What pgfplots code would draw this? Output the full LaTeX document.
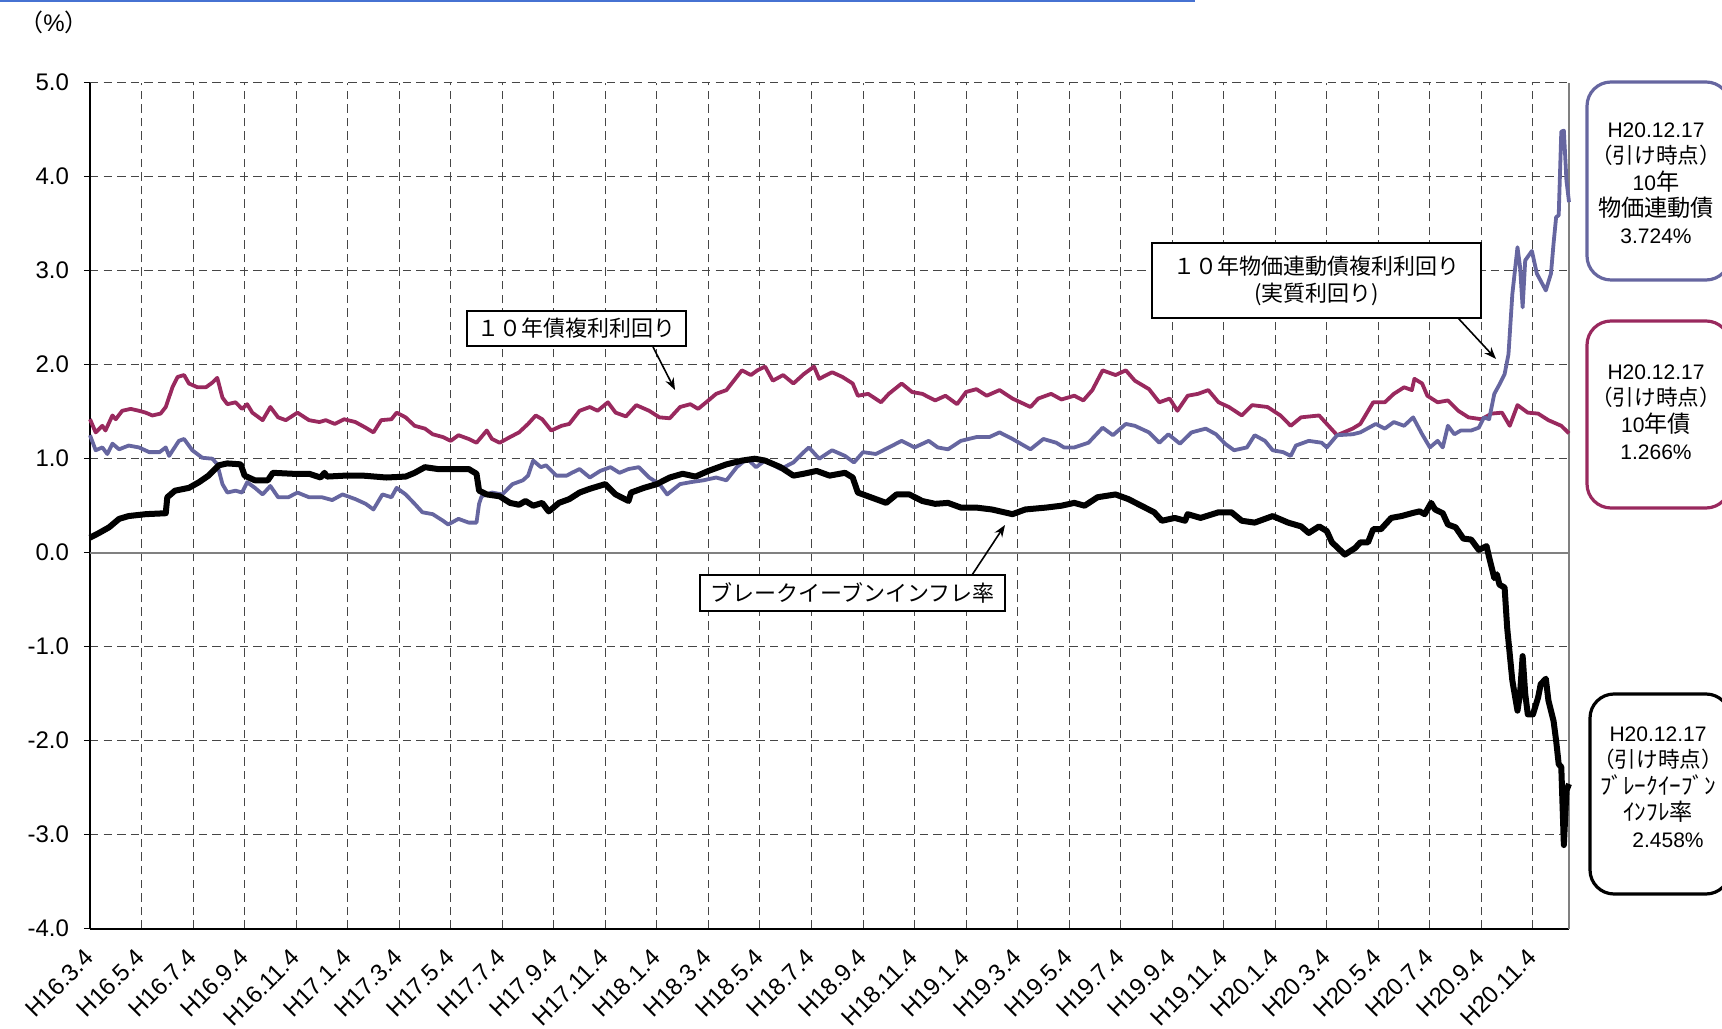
\documentclass[border=0pt]{standalone}
\usepackage{pgfplots}
\pgfplotsset{compat=1.18}
\usepackage{fontspec}
\setmainfont{Liberation Sans}
\newfontfamily\jp{Noto Sans CJK JP}
\usetikzlibrary{arrows.meta}
\definecolor{ilbblue}{RGB}{102,102,160}
\definecolor{jgbred}{RGB}{153,41,94}
\definecolor{gridc}{RGB}{70,70,70}
\definecolor{topblue}{RGB}{70,114,210}
\newcommand{\jb}[1]{{\jp\fontsize{11.6}{13.3}\selectfont #1}}
\newcommand{\jn}[1]{{\jp\fontsize{10.8}{13.3}\selectfont #1}}

\begin{document}
\begin{tikzpicture}
\begin{axis}[
  name=ax, at={(0,0)}, anchor=south west,
  scale only axis, width=739.5pt, height=423pt,
  xmin=0, xmax=57.4, ymin=-4, ymax=5,
  axis x line=bottom, axis y line=left,
  axis line style={-, black, line width=0.8pt},
  xtick={0,2,...,56},
  xticklabels={H16.3.4,H16.5.4,H16.7.4,H16.9.4,H16.11.4,H17.1.4,H17.3.4,H17.5.4,H17.7.4,H17.9.4,H17.11.4,H18.1.4,H18.3.4,H18.5.4,H18.7.4,H18.9.4,H18.11.4,H19.1.4,H19.3.4,H19.5.4,H19.7.4,H19.9.4,H19.11.4,H20.1.4,H20.3.4,H20.5.4,H20.7.4,H20.9.4,H20.11.4},
  ytick={-4,-3,...,5},
  yticklabels={-4.0,-3.0,-2.0,-1.0,0.0,1.0,2.0,3.0,4.0,5.0},
  xmajorgrids, ymajorgrids,
  major grid style={gridc, line width=0.5pt, dash pattern=on 4.2pt off 2.6pt},
  x tick style={draw=none},
  y tick style={black, line width=0.6pt},
  tick align=outside, major tick length=3pt,
  tick label style={font=\fontsize{12}{14}\selectfont},
  xticklabel style={yshift=-7pt, xshift=2pt, rotate=45, anchor=east},
  yticklabel style={xshift=-4pt},
  clip=false,
]
\draw[gray, line width=0.8pt] (axis cs:0,0) -- (axis cs:57.4,0);
\draw[gray, line width=0.8pt] (rel axis cs:1,0) -- (rel axis cs:1,1);

% 10-year JGB
\addplot[jgbred, line width=1.9pt, line join=round] coordinates {
(0,1.42)(0.22,1.28)(0.48,1.35)(0.6,1.30)(0.87,1.46)(1.0,1.42)(1.25,1.51)(1.58,1.53)(1.9,1.51)(2.16,1.49)
(2.42,1.46)(2.74,1.48)(2.94,1.55)(3.2,1.76)(3.4,1.87)(3.65,1.89)(3.84,1.80)(4.17,1.76)(4.5,1.76)(4.75,1.81)
(4.94,1.86)(5.14,1.65)(5.33,1.58)(5.65,1.60)(5.9,1.53)(6.1,1.58)(6.3,1.49)(6.7,1.41)(7.0,1.55)(7.3,1.44)
(7.6,1.41)(8.05,1.49)(8.5,1.41)(8.9,1.39)(9.15,1.41)(9.5,1.37)(9.86,1.42)(10.3,1.39)(10.7,1.33)(11.0,1.28)
(11.3,1.41)(11.7,1.42)(11.9,1.49)(12.25,1.44)(12.6,1.35)(13.0,1.32)(13.3,1.26)(13.7,1.23)(14.0,1.19)(14.3,1.25)
(14.7,1.21)(15.0,1.17)(15.4,1.30)(15.6,1.21)(15.9,1.17)(16.3,1.23)(16.65,1.28)(17.0,1.37)(17.3,1.46)(17.55,1.42)
(17.9,1.30)(18.3,1.35)(18.6,1.37)(19.0,1.51)(19.4,1.55)(19.7,1.51)(20.1,1.60)(20.4,1.49)(20.8,1.45)(21.2,1.57)
(21.7,1.51)(22.1,1.44)(22.5,1.43)(22.9,1.55)(23.3,1.58)(23.6,1.53)(24.0,1.62)(24.3,1.69)(24.7,1.73)(25.1,1.87)
(25.3,1.94)(25.65,1.89)(25.9,1.94)(26.2,1.98)(26.5,1.83)(26.9,1.89)(27.3,1.80)(27.7,1.90)(28.1,1.98)(28.3,1.85)
(28.8,1.92)(29.2,1.87)(29.6,1.80)(29.8,1.67)(30.2,1.69)(30.7,1.60)(31.0,1.69)(31.5,1.80)(31.9,1.71)(32.3,1.69)
(32.8,1.62)(33.2,1.67)(33.65,1.58)(34.0,1.71)(34.4,1.74)(34.8,1.67)(35.3,1.73)(35.8,1.64)(36.5,1.55)(36.8,1.64)
(37.3,1.69)(37.7,1.63)(38.2,1.67)(38.55,1.62)(38.9,1.73)(39.3,1.94)(39.8,1.89)(40.2,1.94)(40.55,1.83)(41.1,1.74)
(41.5,1.60)(41.9,1.64)(42.2,1.51)(42.6,1.67)(43.0,1.69)(43.4,1.73)(43.8,1.60)(44.2,1.55)(44.7,1.46)(45.1,1.57)
(45.7,1.55)(46.2,1.46)(46.6,1.35)(47.0,1.44)(47.7,1.46)(48.0,1.37)(48.4,1.25)(49.0,1.32)(49.3,1.37)(49.8,1.60)
(50.25,1.60)(50.6,1.69)(51.0,1.76)(51.3,1.73)(51.4,1.85)(51.7,1.80)(51.9,1.67)(52.3,1.60)(52.7,1.62)(53.1,1.51)
(53.5,1.44)(54.0,1.42)(54.4,1.48)(54.8,1.49)(55.1,1.35)(55.4,1.57)(55.8,1.49)(56.2,1.48)(56.6,1.41)(57.1,1.35)
(57.4,1.27)
};

% 10-year inflation-indexed bond
\addplot[ilbblue, line width=1.9pt, line join=round] coordinates {
(0,1.25)(0.22,1.09)(0.48,1.12)(0.67,1.05)(0.87,1.16)(1.13,1.10)(1.5,1.14)(1.9,1.12)(2.3,1.07)(2.7,1.07)
(2.94,1.12)(3.07,1.03)(3.45,1.19)(3.65,1.21)(3.97,1.09)(4.36,1.01)(4.75,1.00)(4.94,0.94)(5.14,0.73)(5.33,0.64)
(5.65,0.66)(5.9,0.64)(6.1,0.75)(6.4,0.69)(6.7,0.62)(7.0,0.71)(7.3,0.59)(7.7,0.59)(8.05,0.64)(8.5,0.59)
(9.0,0.59)(9.4,0.56)(9.8,0.62)(10.3,0.57)(10.7,0.52)(11.0,0.46)(11.35,0.62)(11.7,0.59)(11.9,0.69)(12.25,0.62)
(12.6,0.52)(12.9,0.43)(13.3,0.41)(13.7,0.34)(13.9,0.30)(14.3,0.36)(14.7,0.32)(15.0,0.32)(15.1,0.52)(15.2,0.60)
(15.6,0.64)(16.0,0.62)(16.4,0.73)(16.8,0.77)(17.0,0.82)(17.2,0.98)(17.5,0.91)(17.7,0.93)(18.1,0.82)(18.5,0.82)
(18.7,0.85)(19.0,0.89)(19.4,0.80)(19.8,0.87)(20.2,0.91)(20.55,0.85)(20.9,0.89)(21.3,0.91)(21.7,0.80)(22.1,0.73)
(22.4,0.62)(22.9,0.73)(23.3,0.75)(23.8,0.77)(24.3,0.80)(24.7,0.77)(25.1,0.91)(25.5,1.00)(25.85,0.91)(26.2,0.98)
(26.8,0.89)(27.3,0.96)(27.7,1.07)(27.9,1.12)(28.3,1.00)(28.8,1.09)(29.3,1.03)(29.65,0.96)(30.0,1.07)(30.5,1.05)
(31.0,1.12)(31.5,1.19)(32.0,1.12)(32.55,1.19)(32.9,1.12)(33.3,1.10)(33.8,1.19)(34.4,1.23)(34.9,1.23)(35.3,1.28)
(35.8,1.21)(36.5,1.10)(37.0,1.21)(37.5,1.17)(37.8,1.12)(38.2,1.12)(38.75,1.17)(39.3,1.33)(39.7,1.25)(40.2,1.37)
(40.55,1.35)(41.1,1.28)(41.5,1.17)(41.85,1.26)(42.3,1.16)(42.75,1.28)(43.3,1.32)(43.7,1.26)(44.05,1.16)(44.4,1.09)
(44.9,1.12)(45.2,1.25)(45.6,1.19)(45.9,1.09)(46.3,1.07)(46.6,1.03)(46.8,1.14)(47.3,1.19)(47.8,1.17)(48.0,1.12)
(48.4,1.25)(49.0,1.26)(49.3,1.28)(49.9,1.37)(50.25,1.32)(50.6,1.39)(51.0,1.35)(51.35,1.44)(51.7,1.26)(52.0,1.12)
(52.3,1.19)(52.5,1.12)(52.7,1.35)(52.95,1.26)(53.2,1.30)(53.6,1.30)(53.9,1.33)(54.1,1.44)(54.3,1.42)(54.5,1.69)
(54.7,1.79)(54.9,1.90)(55.05,2.11)(55.2,2.75)(55.4,3.25)(55.5,3.04)(55.6,2.61)(55.7,3.11)(55.96,3.21)(56.15,2.97)
(56.5,2.79)(56.7,2.97)(56.8,3.29)(56.9,3.57)(57.0,3.59)(57.1,4.48)(57.2,4.49)(57.3,3.96)(57.4,3.73)
};

% break-even inflation rate
\addplot[black, line width=3pt, line join=round] coordinates {
(0,0.16)(0.35,0.21)(0.74,0.27)(1.13,0.36)(1.5,0.39)(2.16,0.41)(2.94,0.42)(3.0,0.59)(3.3,0.66)(3.84,0.69)
(4.23,0.75)(4.6,0.82)(5.0,0.93)(5.33,0.95)(5.85,0.94)(6.0,0.82)(6.4,0.77)(6.9,0.77)(7.1,0.85)(7.85,0.84)
(8.5,0.84)(8.95,0.80)(9.1,0.85)(9.2,0.81)(9.9,0.82)(10.6,0.82)(11.5,0.80)(12.25,0.81)(12.6,0.85)(13.0,0.91)
(13.5,0.89)(14.1,0.89)(14.7,0.89)(15.0,0.84)(15.1,0.66)(15.4,0.62)(15.9,0.60)(16.3,0.53)(16.65,0.51)(16.9,0.55)
(17.2,0.50)(17.55,0.53)(17.8,0.44)(17.9,0.46)(18.2,0.53)(18.6,0.57)(19.0,0.64)(19.4,0.68)(20.0,0.73)(20.4,0.62)
(20.9,0.55)(21.0,0.64)(21.5,0.69)(22.0,0.73)(22.5,0.80)(23.0,0.84)(23.5,0.81)(24.0,0.87)(24.7,0.94)(25.3,0.98)
(25.8,1.00)(26.2,0.98)(26.8,0.91)(27.3,0.82)(27.7,0.84)(28.2,0.87)(28.7,0.82)(29.3,0.85)(29.6,0.80)(29.8,0.64)
(30.2,0.60)(30.9,0.53)(31.3,0.62)(31.8,0.62)(32.3,0.55)(32.8,0.52)(33.3,0.53)(33.8,0.48)(34.4,0.48)(35.0,0.46)
(35.8,0.41)(36.3,0.46)(37.1,0.48)(37.7,0.50)(38.2,0.53)(38.6,0.50)(39.1,0.59)(39.8,0.62)(40.3,0.57)(40.8,0.50)
(41.3,0.43)(41.6,0.34)(42.1,0.37)(42.5,0.34)(42.6,0.41)(43.1,0.37)(43.8,0.43)(44.3,0.43)(44.7,0.34)(45.2,0.32)
(45.9,0.39)(46.5,0.32)(47.0,0.28)(47.3,0.21)(47.7,0.28)(48.0,0.23)(48.2,0.11)(48.7,-0.02)(49.1,0.05)(49.3,0.11)
(49.6,0.11)(49.8,0.25)(50.1,0.25)(50.5,0.37)(50.9,0.39)(51.3,0.42)(51.6,0.44)(51.8,0.41)(52.05,0.53)(52.2,0.46)
(52.5,0.42)(52.7,0.30)(53.0,0.27)(53.3,0.15)(53.6,0.14)(53.9,0.03)(54.2,0.07)(54.3,-0.05)(54.5,-0.27)(54.6,-0.23)
(54.7,-0.34)(54.9,-0.37)(55.0,-0.8)(55.2,-1.36)(55.4,-1.68)(55.5,-1.5)(55.6,-1.1)(55.7,-1.5)(55.8,-1.72)(56.0,-1.72)
(56.2,-1.54)(56.3,-1.4)(56.5,-1.34)(56.6,-1.57)(56.8,-1.79)(56.9,-2.0)(57.0,-2.25)(57.1,-2.28)(57.2,-3.11)(57.3,-2.53)
(57.4,-2.46)
};
\end{axis}

\begin{scope}[x=0.5pt, y=0.5pt]
% top blue rule
\draw[topblue, line width=1pt] (-90,927.8) -- (1105,927.8);
% (%) label
\node[font=\fontsize{12}{14}\selectfont, inner sep=0pt] at (-36,906.7) {{\jp （}\%{\jp ）}};

% annotation boxes
\node[draw=black, fill=white, line width=0.8pt, minimum width=109.5pt, minimum height=17.5pt, inner sep=1pt,
      font=\jp\fontsize{11}{13}\selectfont] at (486.5,600.2) {１０年債複利利回り};
\draw[-{Stealth[length=6pt,width=4.5pt]}, line width=0.8pt] (563,581.7) -- (585,538.7);

\node[draw=black, fill=white, line width=0.8pt, minimum width=164.5pt, minimum height=37.5pt, inner sep=1pt,
      align=center, font=\jp\fontsize{11}{13.5}\selectfont] at (1226.5,648.2) {１０年物価連動債複利利回り\\(実質利回り)};
\draw[-{Stealth[length=6pt,width=4.5pt]}, line width=0.8pt] (1368,610.7) -- (1406,569.7);

\node[draw=black, fill=white, line width=0.8pt, minimum width=152.5pt, minimum height=18pt, inner sep=1pt,
      font=\jp\fontsize{11}{13}\selectfont] at (762.5,335.7) {ブレークイーブンインフレ率};
\draw[-{Stealth[length=6pt,width=4.5pt]}, line width=0.8pt] (882,353.7) -- (915,403.7);

% right-hand rounded boxes
\draw[ilbblue, line width=1.6pt, rounded corners=12pt] (1497,648.7) rectangle (1640,846.7);
\node[align=center, font=\fontsize{10.5}{13.3}\selectfont] at (1566,745.7)
  {H20.12.17\\\jn{（引け時点）}\\10\jb{年}\\\jb{物価連動債}\\3.724\%};

\draw[jgbred, line width=1.6pt, rounded corners=12pt] (1497,420.7) rectangle (1640,607.7);
\node[align=center, font=\fontsize{10.5}{13.3}\selectfont] at (1566,516.7)
  {H20.12.17\\\jn{（引け時点）}\\10\jb{年債}\\1.266\%};

\draw[black, line width=1.6pt, rounded corners=12pt] (1500,34.7) rectangle (1640,234.7);
\node[align=center, font=\fontsize{10.5}{13.3}\selectfont] at (1568,141.7)
  {H20.12.17\\\jn{（引け時点）}\\\jb{ﾌﾞﾚｰｸｲｰﾌﾞﾝ}\\\jb{ｲﾝﾌﾚ率}\\\hspace*{10pt}2.458\%};

\pgfresetboundingbox
\path[use as bounding box] (-90,-99.3) rectangle (1632,928.7);
\end{scope}
\end{tikzpicture}
\end{document}
